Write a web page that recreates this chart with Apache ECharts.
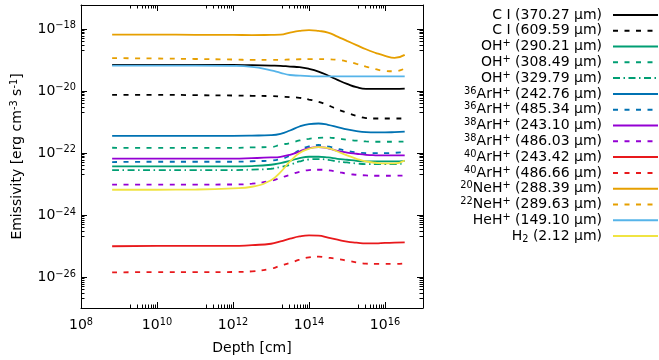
<!DOCTYPE html>
<html><head><meta charset="utf-8">
<script src="https://cdn.jsdelivr.net/npm/echarts@6/dist/echarts.min.js"></script>
<style>html,body{margin:0;padding:0;background:#fff}#c{width:659px;height:360px}</style>
</head><body><div id="c"></div>
<script>
// ---- data (depth in cm, emissivity in erg cm^-3 s^-1) ----
const depthCm = [6.6e8, 1e10, 1e11, 1e12, 3.16e12, 1e13, 1.78e13, 3.16e13, 5.62e13, 1e14, 1.78e14, 3.16e14, 5.62e14, 1e15, 1.78e15, 3.16e15, 5.62e15, 1e16, 1.78e16, 3.3e16];
const cI_370 = [6.9e-20, 6.9e-20, 6.9e-20, 6.9e-20, 6.75e-20, 6.57e-20, 6.45e-20, 6.1e-20, 5.83e-20, 5.14e-20, 4.2e-20, 3.13e-20, 2.27e-20, 1.69e-20, 1.32e-20, 1.17e-20, 1.17e-20, 1.17e-20, 1.17e-20, 1.19e-20];
const cI_609 = [7.5e-21, 7.5e-21, 7.3e-21, 7.1e-21, 6.95e-21, 6.8e-21, 6.6e-21, 6.3e-21, 6.0e-21, 5.27e-21, 4.45e-21, 3.43e-21, 2.55e-21, 1.97e-21, 1.57e-21, 1.33e-21, 1.29e-21, 1.29e-21, 1.29e-21, 1.29e-21];
const ohp_290 = [3.66e-23, 3.66e-23, 3.66e-23, 3.66e-23, 3.77e-23, 4.16e-23, 4.71e-23, 5.59e-23, 6.83e-23, 7.52e-23, 7.52e-23, 7.14e-23, 6.48e-23, 6.02e-23, 5.59e-23, 5.31e-23, 5.31e-23, 5.31e-23, 5.31e-23, 5.59e-23];
const ohp_308 = [1.47e-22, 1.45e-22, 1.45e-22, 1.45e-22, 1.51e-22, 1.55e-22, 1.83e-22, 2.08e-22, 2.52e-22, 2.86e-22, 3.08e-22, 3.13e-22, 2.92e-22, 2.65e-22, 2.5e-22, 2.35e-22, 2.29e-22, 2.29e-22, 2.29e-22, 2.34e-22];
const ohp_329 = [2.8e-23, 2.8e-23, 2.8e-23, 2.8e-23, 2.9e-23, 3.09e-23, 3.5e-23, 4.16e-23, 5.31e-23, 6.15e-23, 6.34e-23, 6.02e-23, 5.31e-23, 4.93e-23, 4.58e-23, 4.38e-23, 4.38e-23, 4.38e-23, 4.38e-23, 4.48e-23];
const ar36_242 = [3.57e-22, 3.57e-22, 3.57e-22, 3.57e-22, 3.62e-22, 3.75e-22, 4.14e-22, 5.29e-22, 7.12e-22, 8.5e-22, 8.9e-22, 8.07e-22, 6.8e-22, 5.7e-22, 5.06e-22, 4.7e-22, 4.6e-22, 4.6e-22, 4.7e-22, 4.9e-22];
const ar36_485 = [5.08e-23, 5.2e-23, 5.2e-23, 5.2e-23, 5.4e-23, 5.7e-23, 6.34e-23, 8.1e-23, 1.22e-22, 1.64e-22, 1.8e-22, 1.62e-22, 1.36e-22, 1.17e-22, 1.04e-22, 9.9e-23, 9.9e-23, 9.9e-23, 1.01e-22, 1.06e-22];
const ar38_243 = [6.6e-23, 6.6e-23, 6.6e-23, 6.6e-23, 6.8e-23, 7.14e-23, 7.52e-23, 8.73e-23, 1.11e-22, 1.43e-22, 1.55e-22, 1.41e-22, 1.17e-22, 1.03e-22, 9.4e-23, 8.7e-23, 8.4e-23, 8.3e-23, 8.3e-23, 8.4e-23];
const ar38_486 = [9.57e-24, 9.57e-24, 9.57e-24, 9.6e-24, 1.02e-23, 1.27e-23, 1.58e-23, 1.98e-23, 2.47e-23, 2.8e-23, 2.87e-23, 2.77e-23, 2.47e-23, 2.13e-23, 1.98e-23, 1.88e-23, 1.84e-23, 1.84e-23, 1.84e-23, 1.88e-23];
const ar40_243 = [9.8e-26, 1.0e-25, 1.0e-25, 1.0e-25, 1.07e-25, 1.18e-25, 1.41e-25, 1.72e-25, 2.04e-25, 2.19e-25, 2.15e-25, 1.85e-25, 1.59e-25, 1.37e-25, 1.28e-25, 1.21e-25, 1.21e-25, 1.25e-25, 1.28e-25, 1.31e-25];
const ar40_486 = [1.41e-26, 1.43e-26, 1.43e-26, 1.45e-26, 1.52e-26, 1.85e-26, 2.32e-26, 2.83e-26, 3.61e-26, 4.29e-26, 4.52e-26, 4.19e-26, 3.81e-26, 3.36e-26, 2.96e-26, 2.69e-26, 2.63e-26, 2.63e-26, 2.63e-26, 2.75e-26];
const ne20_288 = [6.5e-19, 6.5e-19, 6.45e-19, 6.4e-19, 6.3e-19, 6.4e-19, 6.5e-19, 7.6e-19, 8.6e-19, 9.1e-19, 8.6e-19, 7.6e-19, 5.65e-19, 4.1e-19, 3.0e-19, 2.2e-19, 1.69e-19, 1.35e-19, 1.16e-19, 1.45e-19];
const ne22_289 = [1.14e-19, 1.11e-19, 1.07e-19, 1.03e-19, 1.0e-19, 1.0e-19, 1.0e-19, 1.03e-19, 1.05e-19, 1.06e-19, 1.06e-19, 1.05e-19, 1.0e-19, 8.9e-20, 7.45e-20, 6.1e-20, 5.0e-20, 4.4e-20, 4.3e-20, 5.26e-20];
const hehp_149 = [6.57e-20, 6.57e-20, 6.57e-20, 6.45e-20, 6.0e-20, 4.6e-20, 3.83e-20, 3.26e-20, 3.1e-20, 2.99e-20, 2.93e-20, 2.93e-20, 2.93e-20, 2.93e-20, 2.93e-20, 2.93e-20, 2.93e-20, 2.93e-20, 2.93e-20, 2.93e-20];
const h2_212 = [6.5e-24, 6.5e-24, 6.6e-24, 7.16e-24, 8.12e-24, 1.32e-23, 2.42e-23, 5.31e-23, 9.9e-23, 1.36e-22, 1.55e-22, 1.44e-22, 1.11e-22, 8.3e-23, 6.48e-23, 5.31e-23, 4.82e-23, 4.58e-23, 4.58e-23, 5.7e-23];

const xTickExps = [8, 10, 12, 14, 16];
const yTickExps = [-26, -24, -22, -20, -18];
const xMinorDecades = [9, 11, 13, 15];
const yMinorDecades = [-27, -25, -23, -21, -19];
const xRange = [8, 17];
const yRange = [-27, -17.23];

const seriesNames = ['C I (370.27 μm)', 'C I (609.59 μm)', 'OH+ (290.21 μm)', 'OH+ (308.49 μm)', 'OH+ (329.79 μm)',
  '36ArH+ (242.76 μm)', '36ArH+ (485.34 μm)', '38ArH+ (243.10 μm)', '38ArH+ (486.03 μm)',
  '40ArH+ (243.42 μm)', '40ArH+ (486.66 μm)', '20NeH+ (288.39 μm)', '22NeH+ (289.63 μm)', 'HeH+ (149.10 μm)', 'H2 (2.12 μm)'];
const legendRich = ['{n|C I (370.27 μm)}', '{n|C I (609.59 μm)}', '{n|OH}{s|+}{n| (290.21 μm)}', '{n|OH}{s|+}{n| (308.49 μm)}', '{n|OH}{s|+}{n| (329.79 μm)}',
  '{s|36}{n|ArH}{s|+}{n| (242.76 μm)}', '{s|36}{n|ArH}{s|+}{n| (485.34 μm)}', '{s|38}{n|ArH}{s|+}{n| (243.10 μm)}', '{s|38}{n|ArH}{s|+}{n| (486.03 μm)}',
  '{s|40}{n|ArH}{s|+}{n| (243.42 μm)}', '{s|40}{n|ArH}{s|+}{n| (486.66 μm)}', '{s|20}{n|NeH}{s|+}{n| (288.39 μm)}', '{s|22}{n|NeH}{s|+}{n| (289.63 μm)}',
  '{n|HeH}{s|+}{n| (149.10 μm)}', '{n|H}{d|2}{n| (2.12 μm)}'];
const seriesData = [cI_370, cI_609, ohp_290, ohp_308, ohp_329, ar36_242, ar36_485, ar38_243, ar38_486, ar40_243, ar40_486, ne20_288, ne22_289, hehp_149, h2_212];
const seriesColors = ['#000000', '#000000', '#009e73', '#009e73', '#009e73', '#0072b2', '#0072b2', '#9400d3', '#9400d3', '#e8191c', '#e8191c', '#e69f00', '#e69f00', '#56b4e9', '#f0e442'];
const DASH = [5, 6.5], DASHDOT = [7, 3.5, 1.5, 3.5];
const seriesDash = ['solid', DASH, 'solid', DASH, DASHDOT, 'solid', DASH, 'solid', DASH, 'solid', DASH, 'solid', DASH, 'solid', 'solid'];

const FONT = 'DejaVu Sans';
const minorVals = decs => { const v = []; decs.forEach(d => { for (let k = 2; k <= 9; k++) v.push(d + Math.log10(k)); }); return v; };
const richLbl = { b: { fontSize: 14, fontFamily: FONT, color: '#000', lineHeight: 16 }, s: { fontSize: 9.8, fontFamily: FONT, color: '#000', verticalAlign: 'top' } };

function xAx(grid, pos, major, labels) {
  return {
    type: 'value', gridIndex: grid, position: pos, min: xRange[0], max: xRange[1],
    axisLine: { show: major, lineStyle: { color: '#000', width: 1 } },
    axisTick: { show: true, inside: true, length: major ? 6 : 3.5, lineStyle: { color: '#000', width: 1 },
      customValues: major ? xTickExps : minorVals(xMinorDecades) },
    axisLabel: { show: labels, customValues: xTickExps, margin: 9, formatter: v => '{b|10}{s|' + v + '}', rich: richLbl },
    splitLine: { show: false }
  };
}
function yAx(grid, pos, major, labels) {
  return {
    type: 'value', gridIndex: grid, position: pos, min: yRange[0], max: yRange[1],
    axisLine: { show: major, lineStyle: { color: '#000', width: 1 } },
    axisTick: { show: true, inside: true, length: major ? 6 : 3.5, lineStyle: { color: '#000', width: 1 },
      customValues: major ? yTickExps : minorVals(yMinorDecades) },
    axisLabel: { show: labels, customValues: yTickExps, margin: 5, formatter: v => '{b|10}{s|−' + Math.abs(v) + '}', rich: richLbl },
    splitLine: { show: false }
  };
}

const xAxes = [xAx(0, 'bottom', true, true), xAx(0, 'top', true, false), xAx(1, 'bottom', false, false), xAx(1, 'top', false, false)];
xAxes[0].name = 'Depth [cm]'; xAxes[0].nameLocation = 'middle'; xAxes[0].nameGap = 33;
xAxes[0].nameTextStyle = { fontSize: 14, fontFamily: FONT, color: '#000' };
const yAxes = [yAx(0, 'left', true, true), yAx(0, 'right', true, false), yAx(1, 'left', false, false), yAx(1, 'right', false, false)];
yAxes[0].name = '{b|Emissivity [erg cm}{s|-3}{b| s}{s|-1}{b|]}'; yAxes[0].nameLocation = 'middle'; yAxes[0].nameGap = 56; yAxes[0].nameRotate = 90;
yAxes[0].nameTextStyle = { rich: richLbl };

const series = seriesNames.map((nm, i) => ({
  name: nm, type: 'line', xAxisIndex: 0, yAxisIndex: 0, symbol: 'none', showSymbol: false, smooth: 0.5,
  lineStyle: { color: seriesColors[i], width: 1.8, type: seriesDash[i] }, itemStyle: { color: seriesColors[i] },
  data: depthCm.map((d, j) => [Math.log10(d), Math.log10(seriesData[i][j])])
}));

const chart = echarts.init(document.getElementById('c'), null, { renderer: 'canvas' });
chart.setOption({
  animation: false, backgroundColor: '#fff',
  grid: [{ left: 81, right: 236, top: 5, bottom: 52, containLabel: false }, { left: 81, right: 236, top: 5, bottom: 52, containLabel: false }],
  xAxis: xAxes, yAxis: yAxes,
  legend: {
    orient: 'vertical', right: 0, top: 7, padding: 0, itemGap: 0, itemWidth: 45, itemHeight: 15.8, align: 'right',
    data: seriesNames, formatter: nm => legendRich[seriesNames.indexOf(nm)], selectedMode: false,
    itemStyle: { opacity: 0, borderWidth: 0 },
    textStyle: { width: 165, align: 'right', padding: [0, 6, 0, 0], lineHeight: 15.8,
      rich: { n: { fontSize: 14, fontFamily: FONT, color: '#000', lineHeight: 15.8 },
              s: { fontSize: 9.8, fontFamily: FONT, color: '#000', verticalAlign: 'top' },
              d: { fontSize: 9.8, fontFamily: FONT, color: '#000', verticalAlign: 'bottom' } } }
  },
  series: series
});
</script></body></html>
